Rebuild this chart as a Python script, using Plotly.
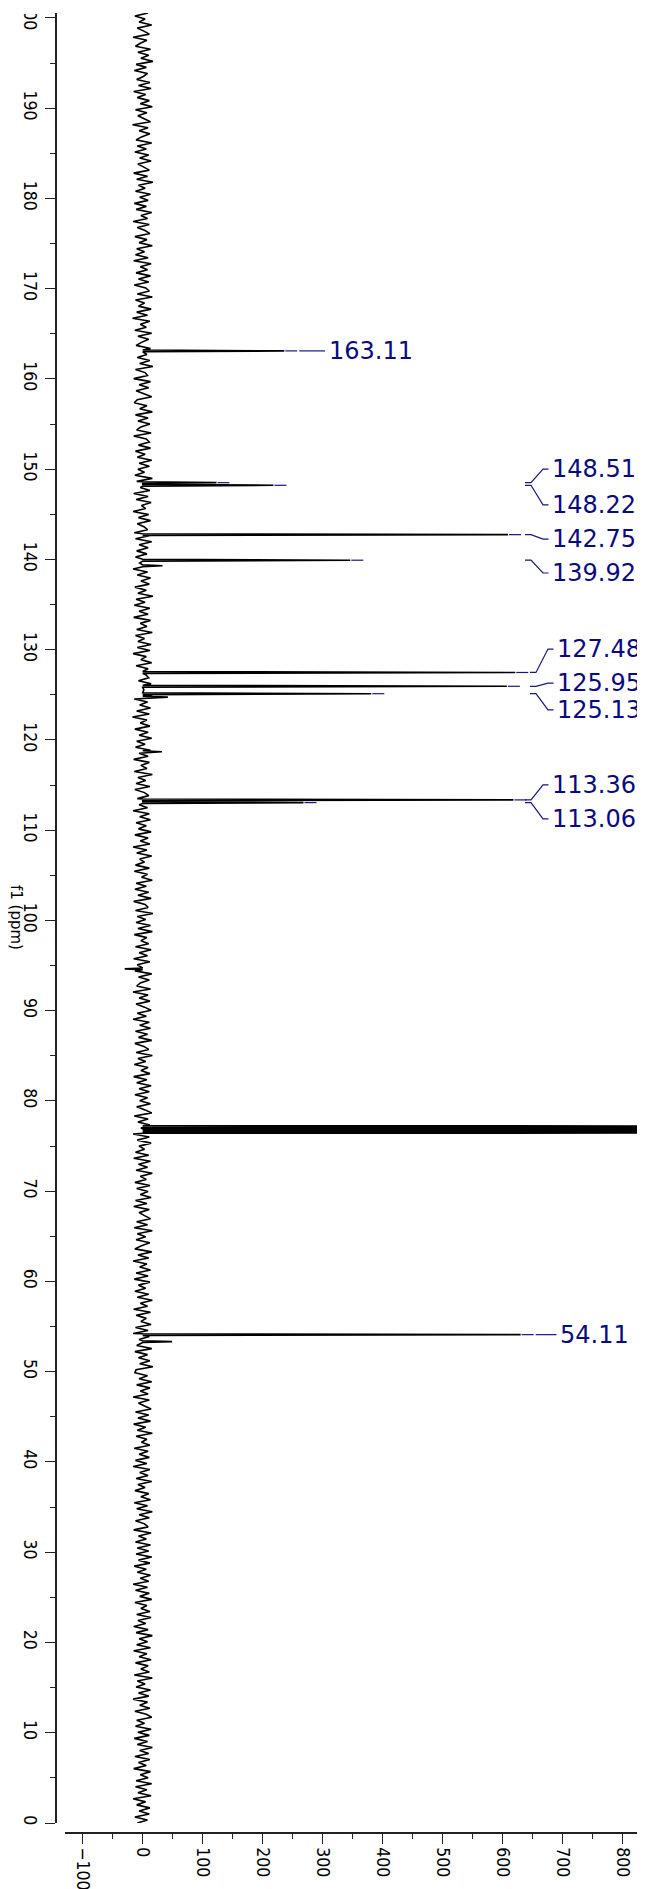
import numpy as np
import plotly.graph_objects as go

# ---------------- data ----------------
ppm_limits = [0.0, 200.55]          # f1 axis range (ppm)
int_limits = [-129.5, 837.2]        # intensity axis range

# baseline noise (intensity units), listed from high ppm to low ppm
noise = [
    9,-13,4,-6,15,-9,2,11,-16,7,-4,-12,13,-8,10,-3,17,-11,6,-14,8,1,-10,12,-7,14,-15,5,-9,11,
    -4,16,-12,7,-8,3,13,-17,9,-6,12,-2,-11,15,-9,6,-13,10,-5,14,-8,2,11,-15,8,-10,17,-7,4,-12,
    13,-5,9,-14,6,-11,15,-3,8,-16,11,-9,4,12,-13,7,-6,16,-10,3,-12,9,-15,14,-4,8,-11,13,-7,10,
    -14,5,11,-9,16,-12,3,-7,14,-10,8,-17,12,-4,6,-13,15,-8,10,-2,-11,13,-16,7,-9,12,-5,17,-12,4,
    8,-15,13,-6,10,-11,2,15,-9,-14,7,-5,16,-12,9,-8,12,-3,-10,14,-15,6,11,-7,13,-12,4,-9,15,-6,
    11,-8,3,-13,16,-10,7,-4,12,-15,9,-11,14,-2,5,-16,10,-7,13,-9,2,8,-14,11,-12,15,-6,9,-10,7,
    -12,14,-5,10,-16,8,-9,13,-3,11,-13,6,-8,17,-11,4,-14,12,-6,9,-15,13,-4,7,-10,16,-12,3,-8,14,
    -9,12,-16,6,-3,15,-11,9,-13,5,10,-7,14,-12,2,-9,16,-14,8,-5,13,-10,11,-17,7,-4,12,-13,9,-6,
    15,-10,4,-12,13,-6,9,-15,11,-3,7,-14,16,-8,5,-11,12,-13,3,10,-9,15,-6,8,-16,11,-5,13,-11,6,
    -7,14,-13,9,-4,12,-16,7,-10,15,-5,3,-12,11,-14,8,-2,16,-11,6,-13,10,-8,14,-15,4,9,-12,17,-9,
    5,-11,13,-8,16,-14,7,-3,10,-12,14,-6,8,-15,12,-9,4,-13,15,-7,11,-4,-10,13,-16,9,-6,12,-11,3,
    14,-9,6,-16,11,-5,13,-12,8,-7,15,-13,2,10,-11,16,-8,5,-14,9,-3,12,-15,7,-10,14,-6,11,-13,8,
    -5,13,-10,4,15,-14,9,-8,12,-3,7,-16,11,-9,14,-6,3,-12,10,-15,13,-7,8,-11,16,-4,6,-13,12,-10,
    9,-4,14,-12,7,-15,11,-6,3,13,-10,8,-14,16,-9,5,-11,12,-2,-13,15,-8,10,-16,7,-5,13,-11,9,-14,
    12,-7,5,-13,10,-9,16,-4,8,-15,13,-11,6,-3,14,-12,9,-16,11,-6,4,-10,15,-13,8,-7,12,-5,17,-11,
    -13,8,-6,15,-10,12,-4,9,-16,11,-7,3,14,-12,10,-8,13,-15,5,-9,16,-11,7,-2,12,-14,9,-6,11,-12,
    7,-16,12,-5,9,-11,15,-8,4,-13,10,-3,13,-14,8,-10,16,-6,11,-12,3,9,-15,14,-7,6,-12,13,-9,10,
    -11,15,-7,12,-14,6,-9,13,-4,10,-16,8,-12,11,-5,15,-13,7,-3,12,-10,14,-8,5,-15,9,-11,16,-6,8,
    -10,13,-15,7,-6,14,-12,9,-3,11,-14,16,-9,4,-11,13,-7,10,-16,8,-5,12,-13,6,15,-10,3,-12,14,-8,
    11,-14,8,-9,16,-5,10,-13,12,-7,6,-15,13,-4,9,-11,15,-12,7,-8,14,-16,5,-10,12,-6,11,-13,8,-9,
]

# labelled peaks
peak_ppm = [163.11, 148.51, 148.22, 142.75, 139.92, 127.48, 125.95, 125.13, 113.36, 113.06, 54.11]
peak_int = [236, 123, 218, 609, 346, 621, 607, 381, 618, 268, 630]
peak_text = ["163.11", "148.51", "148.22", "142.75", "139.92", "127.48", "125.95", "125.13",
             "113.36", "113.06", "54.11"]
peak_group = [0, 1, 1, 1, 1, 2, 2, 2, 3, 3, 4]

# small unlabelled features
minor_ppm = [139.3, 124.75, 118.7, 94.64, 53.34]
minor_int = [33, 42, 32, -30, 49]

# solvent (CDCl3) triplet, off scale
solvent_ppm = [77.16, 76.84, 76.52]
solvent_int = [5000, 5000, 5000]

# ---------------- layout constants (page pixels) ----------------
PAGE_W, PAGE_H = 645, 1889
BODY = 8                       # default page margin around the figure
W, H = PAGE_W - BODY, PAGE_H - BODY
PLOT_LEFT, PLOT_TOP, PLOT_BOTTOM = 56, 13, 1833   # page pixels
M_L, M_T, M_R = PLOT_LEFT - BODY, PLOT_TOP - BODY, 0
M_B = (PAGE_H - BODY) - (PLOT_BOTTOM - BODY)
plot_w = W - M_L - M_R
plot_h = H - M_T - M_B
x_dom0 = 9 / plot_w
y_dom0 = 10 / plot_h
px_per_unit = plot_w * (1 - x_dom0) / (int_limits[1] - int_limits[0])

def dpx(px):
    """pixel offset -> intensity units"""
    return px / px_per_unit

# label placement (text centre ppm, left edge in intensity units)
label_ppm = [163.11, 150.02, 146.06, 142.26, 138.5, 130.07, 126.3, 123.34, 115.03, 111.26, 54.11]
label_x = [310.5, 682.2, 682.2, 682.2, 682.2, 690.5, 690.5, 690.5, 682.2, 682.2, 696.3]

NAVY = "#0a0a80"
LINE_BLUE = "#16167e"
AX = "#222222"
peak_hw = 0.1
solvent_hw = 0.09

# ---------------- spectrum ----------------
noise_ppm = np.linspace(ppm_limits[1], ppm_limits[0], len(noise))
all_peaks = [(p, v, peak_hw) for p, v in zip(peak_ppm, peak_int)] + \
    [(p, v, peak_hw) for p, v in zip(minor_ppm, minor_int)] + \
    [(p, v, solvent_hw) for p, v in zip(solvent_ppm, solvent_int)]
pts = []
for p, v in zip(noise_ppm, noise):
    if all(abs(c - p) > hw * 1.2 for c, _, hw in all_peaks):
        pts.append((p, v))
for p, v, hw in all_peaks:
    pts += [(p + hw, 0.0), (p, v), (p - hw, 0.0)]
pts.sort(key=lambda t: -t[0])
spec_y = [t[0] for t in pts]
spec_x = [t[1] for t in pts]

fig = go.Figure()
fig.add_trace(go.Scatter(x=spec_x, y=spec_y, mode="lines",
                         line=dict(color="black", width=1.6), hoverinfo="skip",
                         showlegend=False))

# ---------------- label connectors ----------------
cx, cy = [], []
group_size = {g: peak_group.count(g) for g in peak_group}
for k in range(len(peak_ppm)):
    p, v, lx, ly = peak_ppm[k], peak_int[k], label_x[k], label_ppm[k]
    cx += [v + dpx(1), v + dpx(13), None]
    cy += [p, p, None]
    if group_size[peak_group[k]] == 1:
        cx += [v + dpx(15), lx - dpx(4), None]
        cy += [p, p, None]
    else:
        cx += [lx - dpx(27), lx - dpx(21), lx - dpx(9), lx - dpx(3.5), None]
        cy += [p, p, ly, ly, None]
fig.add_trace(go.Scatter(x=cx, y=cy, mode="lines",
                         line=dict(color=LINE_BLUE, width=1.2), hoverinfo="skip",
                         showlegend=False))

for k in range(len(peak_ppm)):
    fig.add_annotation(x=label_x[k], y=label_ppm[k], xref="x", yref="y",
                       text=peak_text[k], showarrow=False, xanchor="left",
                       yanchor="middle", borderpad=0, borderwidth=0,
                       font=dict(family="DejaVu Sans", size=24, color=NAVY))

# axis title (centre at page pixel x=16, y=917)
fig.add_annotation(x=(16 - PLOT_LEFT) / plot_w, y=(PLOT_BOTTOM - 917) / plot_h,
                   xref="paper", yref="paper", text="f1 (ppm)", textangle=90,
                   showarrow=False, xanchor="center", yanchor="middle",
                   font=dict(family="DejaVu Sans", size=15, color="black"))

# hide the part of the top tick label that lies above the plotting area
fig.add_shape(type="rect", xref="paper", yref="paper", layer="above",
              x0=-M_L / plot_w - 0.05, x1=-11 / plot_w,
              y0=(plot_h - 1) / plot_h, y1=(plot_h + M_T + 5) / plot_h,
              line=dict(width=0), fillcolor="white")

tickfont = dict(family="DejaVu Sans Condensed, Noto Sans, sans-serif", size=17.5, color="black")
fig.update_layout(
    width=W, height=H,
    margin=dict(l=M_L, r=M_R, t=M_T, b=M_B, pad=0, autoexpand=False),
    paper_bgcolor="white", plot_bgcolor="white",
    xaxis=dict(domain=[x_dom0, 1], range=int_limits, anchor="free", position=0,
               automargin=False, ticklabeloverflow="allow",
               showgrid=False, zeroline=False, showline=True, linecolor=AX, linewidth=1.5,
               ticks="outside", ticklen=10, tickwidth=1.3, tickcolor=AX,
               tick0=0, dtick=100, tickangle=90, tickfont=tickfont,
               minor=dict(ticks="outside", ticklen=5, tickwidth=1.3, tickcolor=AX,
                          tick0=0, dtick=50)),
    yaxis=dict(domain=[y_dom0, 1], range=ppm_limits, anchor="free", position=0,
               automargin=False, ticklabeloverflow="allow",
               showgrid=False, zeroline=False, showline=True, linecolor=AX, linewidth=1.5,
               ticks="outside", ticklen=10, tickwidth=1.3, tickcolor=AX,
               tick0=0, dtick=10, tickangle=90, tickfont=tickfont,
               minor=dict(ticks="outside", ticklen=5, tickwidth=1.3, tickcolor=AX,
                          tick0=0, dtick=5)),
)

fig.write_html("out.html")
